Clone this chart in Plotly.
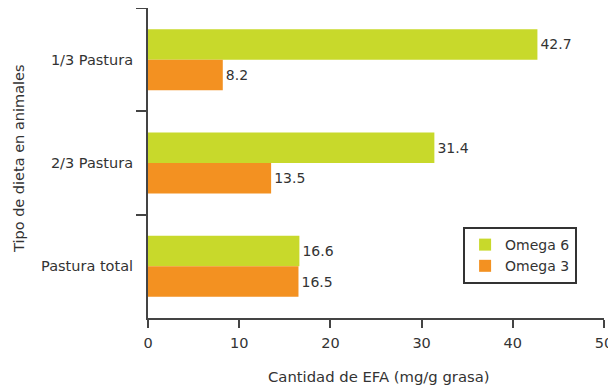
import plotly.graph_objects as go

categories = ["1/3 Pastura", "2/3 Pastura", "Pastura total"]
omega6 = [42.7, 31.4, 16.6]
omega3 = [8.2, 13.5, 16.5]
x_ticks = [0, 10, 20, 30, 40, 50]
x_title = "Cantidad de EFA (mg/g grasa)"
y_title = "Tipo de dieta en animales"

font_family = "DejaVu Sans, Verdana, sans-serif"
txt_color = "#333333"

fig = go.Figure()
fig.add_trace(go.Bar(
    y=categories, x=omega6, orientation="h", name="Omega 6",
    marker=dict(color="#C8D92B", line=dict(width=0)),
    text=[f"{v:.1f}" for v in omega6], textposition="outside",
    textfont=dict(size=14, color=txt_color, family=font_family),
    cliponaxis=False,
))
fig.add_trace(go.Bar(
    y=categories, x=omega3, orientation="h", name="Omega 3",
    marker=dict(color="#F39121", line=dict(width=0)),
    text=[f"{v:.1f}" for v in omega3], textposition="outside",
    textfont=dict(size=14, color=txt_color, family=font_family),
    cliponaxis=False,
))

# page body has an 8px margin, so the figure is drawn 8px in from top-left
fig.update_layout(
    width=608, height=381,
    margin=dict(l=140, r=12, t=0, b=71),
    paper_bgcolor="white", plot_bgcolor="white",
    barmode="group", bargap=0.41, bargroupgap=0,
    font=dict(family=font_family, size=14, color=txt_color),
    showlegend=True,
    legend=dict(
        x=0.691, y=0.2935, xanchor="left", yanchor="top",
        bordercolor="#333333", borderwidth=2, bgcolor="white",
        font=dict(size=14, color=txt_color, family=font_family),
        itemwidth=30, tracegroupgap=0,
    ),
    xaxis=dict(
        range=[0, 50], tickvals=x_ticks, ticktext=[str(v) for v in x_ticks],
        showgrid=False, zeroline=False, automargin=False,
        showline=True, linecolor="#444444", linewidth=2,
        ticks="outside", ticklen=8, tickwidth=2, tickcolor="#444444",
        ticklabelstandoff=3,
        tickfont=dict(size=14.5, color=txt_color),
    ),
    yaxis=dict(
        type="category", categoryorder="array", categoryarray=categories,
        autorange="reversed", automargin=False,
        showgrid=False, zeroline=False,
        showline=True, linecolor="#444444", linewidth=2,
        ticks="outside", ticklen=10, tickwidth=2, tickcolor="#444444",
        tickson="boundaries", ticklabelstandoff=10,
        tickfont=dict(size=14.5, color=txt_color),
    ),
    annotations=[
        dict(text=x_title, xref="paper", yref="paper", x=0.5066, y=-0.19,
             xanchor="center", yanchor="middle", showarrow=False,
             font=dict(size=14.8, color=txt_color, family=font_family)),
        dict(text=y_title, xref="paper", yref="paper", x=-0.283, y=0.516,
             xanchor="center", yanchor="middle", showarrow=False, textangle=-90,
             font=dict(size=14.5, color=txt_color, family=font_family)),
    ],
)

fig.write_html("out.html")
